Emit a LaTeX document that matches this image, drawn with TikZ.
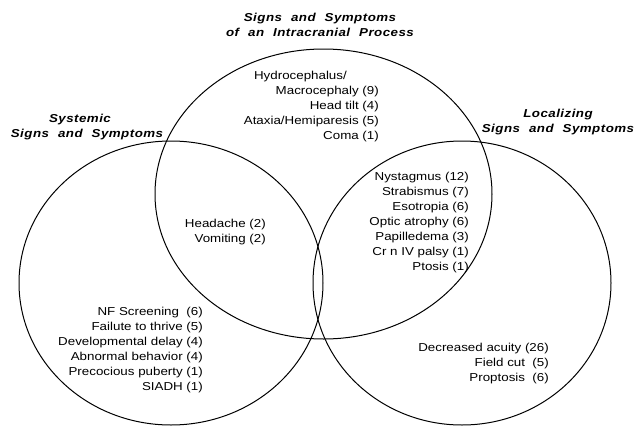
\documentclass[tikz,border=0pt]{standalone}
\usepackage{fontspec}
\setmainfont{Liberation Sans}[FakeStretch=1.16]
\newfontfamily\ttlfont{Liberation Sans}[FakeStretch=1.16,LetterSpace=4]
\newcommand\wg{\hspace{9pt}}
\begin{document}
\begin{tikzpicture}[x=1pt,y=-1pt,
  ring/.style={line width=1pt},
  lst/.style={align=right,inner sep=0pt,font=\fontsize{11.5}{15}\selectfont},
  ttl/.style={align=center,inner sep=0pt,font=\ttlfont\bfseries\itshape\fontsize{11.5}{15}\selectfont}]
\useasboundingbox (0,0) rectangle (638,426);
\draw[ring] (323.5,194) ellipse [x radius=168.5pt, y radius=145pt];
\draw[ring] (171,283) ellipse [x radius=152pt, y radius=142pt];
\draw[ring] (462,283) ellipse [x radius=149pt, y radius=142pt];
\node[ttl,anchor=base] (t1) at (320,36) {Signs\wg and\wg Symptoms\\of\wg an\wg Intracranial\wg Process};
\node[ttl,anchor=base] (t2) at (87,137) {Systemic\hspace*{14pt}\\Signs\wg and\wg Symptoms};
\node[ttl,anchor=base] (t3) at (558,132) {Localizing\\Signs\wg and\wg Symptoms};
\node[lst,anchor=base east] (l1) at (379,139) {Hydrocephalus/\hspace*{32pt}\\Macrocephaly (9)\\Head tilt (4)\\Ataxia/Hemiparesis (5)\\Coma (1)};
\node[lst,anchor=base east] (l2) at (266,242) {Headache (2)\\Vomiting (2)};
\node[lst,anchor=base east] (l3) at (469,270) {Nystagmus (12)\\Strabismus (7)\\Esotropia (6)\\Optic atrophy (6)\\Papilledema (3)\\Cr n IV palsy (1)\\Ptosis (1)};
\node[lst,anchor=base east] (l4) at (203,390) {NF Screening~ (6)\\Failute to thrive (5)\\Developmental delay (4)\\Abnormal behavior (4)\\Precocious puberty (1)\\SIADH (1)};
\node[lst,anchor=base east] (l5) at (549,381) {Decreased acuity (26)\\Field cut~ (5)\\Proptosis~ (6)};
\end{tikzpicture}
\end{document}
